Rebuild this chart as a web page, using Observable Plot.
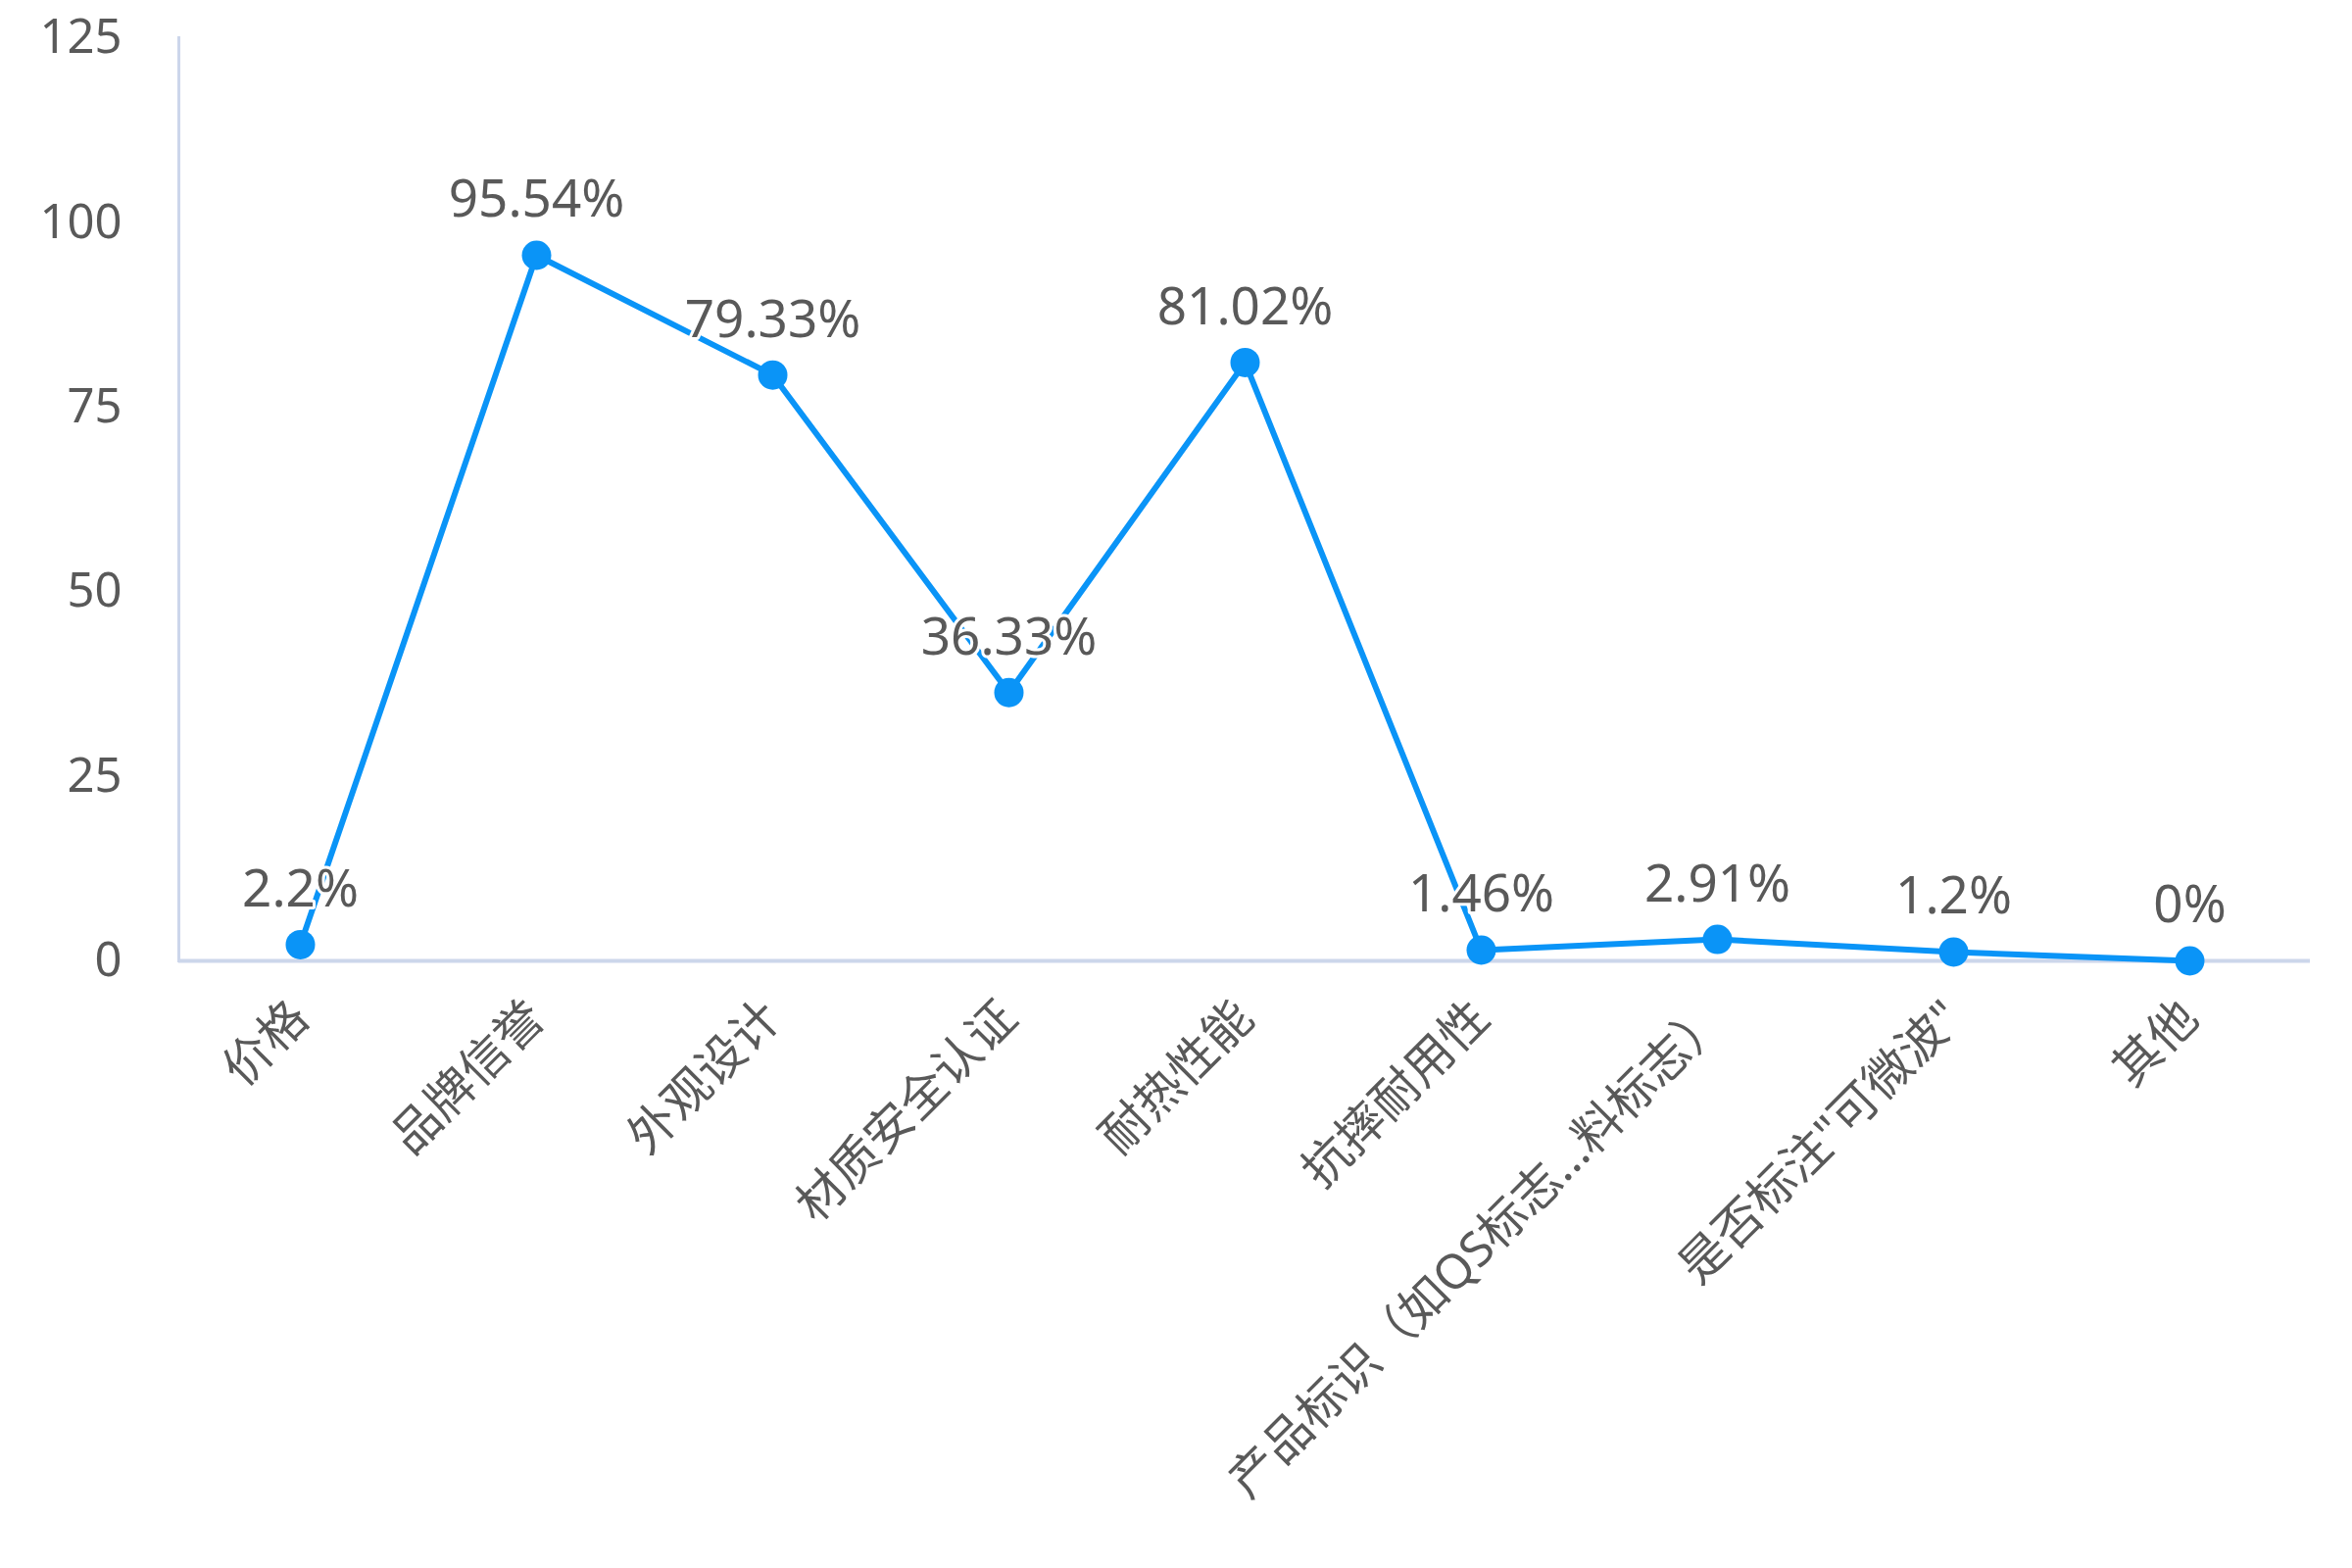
<!DOCTYPE html>
<html>
<head>
<meta charset="utf-8">
<script src="https://cdn.jsdelivr.net/npm/d3@7"></script>
<script src="https://cdn.jsdelivr.net/npm/@observablehq/plot@0.6"></script>
<style>
  html, body { margin: 0; padding: 0; background: #fff; }
  #chart svg { display: block; }
</style>
</head>
<body>
<div id="chart"></div>
<script>
const categories = ["价格", "品牌信誉", "外观设计", "材质安全认证", "耐热性能", "抗摔耐用性", "产品标识（如QS标志…料标志）", "是否标注\"可微波\"", "其他"];
const values = [2.2, 95.54, 79.33, 36.33, 81.02, 1.46, 2.91, 1.2, 0];
const valueLabels = ["2.2%", "95.54%", "79.33%", "36.33%", "81.02%", "1.46%", "2.91%", "1.2%", "0%"];
const yTicks = [0, 25, 50, 75, 100, 125];

const data = categories.map((c, i) => ({category: c, value: values[i], label: valueLabels[i]}));

const lineColor = "#0a94f7";
const textColor = "#595959";
const axisColor = "#ccd6eb";
const font = "'Noto Sans', 'Noto Sans CJK SC', sans-serif";

const chart = Plot.plot({
  width: 2400,
  height: 1600,
  marginLeft: 182,
  marginRight: 43,
  marginTop: 38,
  marginBottom: 620,
  style: {fontFamily: font, fontSize: "48px", color: textColor, background: "#fff"},
  x: {type: "point", domain: categories, padding: 0.5, label: null},
  y: {domain: [0, 125], label: null},
  marks: [
    Plot.frame({anchor: "left", stroke: axisColor, strokeWidth: 3}),
    Plot.ruleY([0], {stroke: axisColor, strokeWidth: 4}),
    Plot.axisY({ticks: yTicks, tickSize: 0, tickPadding: 58, fill: textColor, fontSize: 49, label: null}),
    Plot.axisX({tickSize: 0, tickRotate: -45, tickPadding: 50, fill: textColor, fontSize: 49, label: null}),
    Plot.line(data, {x: "category", y: "value", stroke: lineColor, strokeWidth: 6}),
    Plot.dot(data, {x: "category", y: "value", r: 15, fill: lineColor, stroke: "none"}),
    Plot.text(data, {x: "category", y: "value", text: "label", dy: -56, fill: textColor, stroke: "white", strokeWidth: 6, fontSize: 53, paintOrder: "stroke"})
  ]
});
document.getElementById("chart").appendChild(chart);
</script>
</body>
</html>
